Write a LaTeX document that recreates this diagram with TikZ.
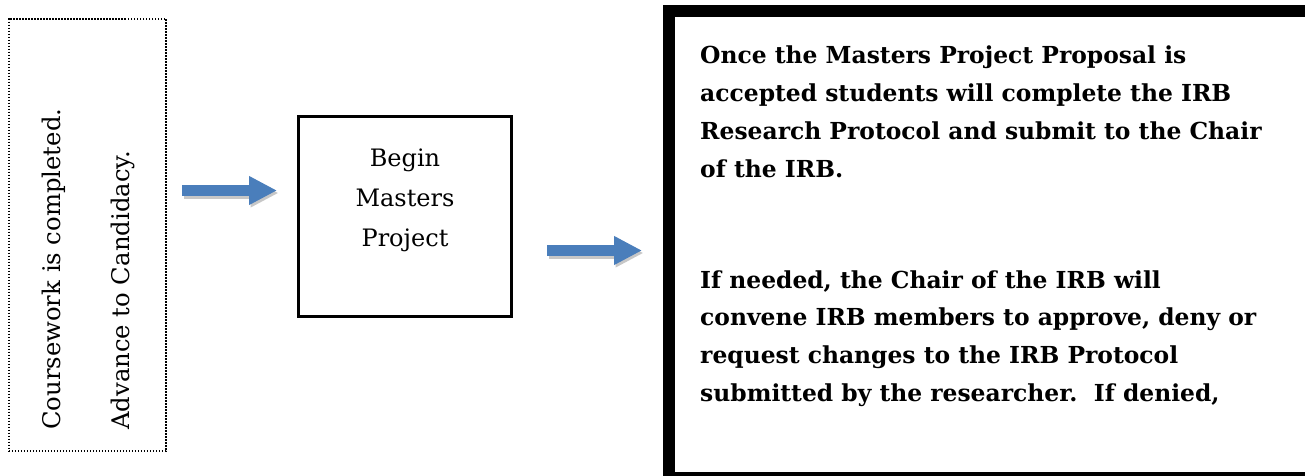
\documentclass[tikz,border=0pt]{standalone}
\usepackage{fontspec}
\setmainfont{DejaVu Serif}
\usetikzlibrary{arrows.meta}
\definecolor{arrowblue}{HTML}{4A7EBB}
\begin{document}
\begin{tikzpicture}[x=1pt,y=-1pt,
  dotbox/.style={draw, line width=1.6pt, dash pattern=on 1.5pt off 1.5pt,
    minimum width=157.4pt, minimum height=432.4pt, inner sep=0pt},
  beginbox/.style={draw, line width=3pt, minimum width=213pt, minimum height=200pt, inner sep=0pt},
  irbbox/.style={draw, line width=12pt, minimum width=651pt, minimum height=467pt, inner sep=0pt},
  regtext/.style={inner sep=0pt, font=\fontsize{24}{40}\selectfont},
  sidetext/.style={inner sep=0pt, rotate=90, anchor=base west, font=\fontsize{24.3}{69}\selectfont},
  boldtext/.style={inner sep=0pt, anchor=base west, font=\fontsize{23.4}{37.8}\selectfont\bfseries},
  blockarrow/.style={draw=arrowblue, line width=11pt, -{Triangle[length=28pt,width=27pt]}, arrowblue},
  arrowshadow/.style={draw=black, opacity=0.22, line width=11pt, -{Triangle[length=28pt,width=27pt]},
    transform canvas={xshift=1.5pt, yshift=-2.5pt}}
]
\useasboundingbox (0,0) rectangle (1305,476);
\clip (0,0) rectangle (1305,476);
\fill[white] (0,0) rectangle (1305,476);

% left dotted box with rotated text
\node[dotbox] (cw) at (87.5,235) {};
\node[sidetext] (cwtext) at (60,430)
  {\begin{tabular}[t]{@{}l@{}}Coursework is completed.\\Advance to Candidacy.\end{tabular}};

% middle box
\node[beginbox] (begin) at (405,216.5) {};
\node[regtext, anchor=base] (begintext) at (405,166)
  {\begin{tabular}[t]{@{}c@{}}Begin\\Masters\\Project\end{tabular}};

% right box (cropped at the picture's edges)
\node[irbbox] (irb) at (994.5,244.5) {};
\node[boldtext] (p1) at (700,64)
  {\begin{tabular}[t]{@{}l@{}}Once the Masters Project Proposal is\\accepted students will complete the IRB\\Research Protocol and submit to the Chair\\of the IRB.\end{tabular}};
\node[boldtext] (p2) at (700,288)
  {\begin{tabular}[t]{@{}l@{}}If needed, the Chair of the IRB will\\convene IRB members to approve, deny or\\request changes to the IRB Protocol\\submitted by the researcher.\ \ If denied,\end{tabular}};

% arrows
\coordinate (a1s) at (182,190.5);
\coordinate (a1e) at (277,190.5);
\coordinate (a2s) at (547,250.5);
\coordinate (a2e) at (642,250.5);
\draw[arrowshadow] (a1s) -- (a1e);
\draw[arrowshadow] (a2s) -- (a2e);
\draw[blockarrow] (a1s) -- (a1e);
\draw[blockarrow] (a2s) -- (a2e);
\end{tikzpicture}
\end{document}
